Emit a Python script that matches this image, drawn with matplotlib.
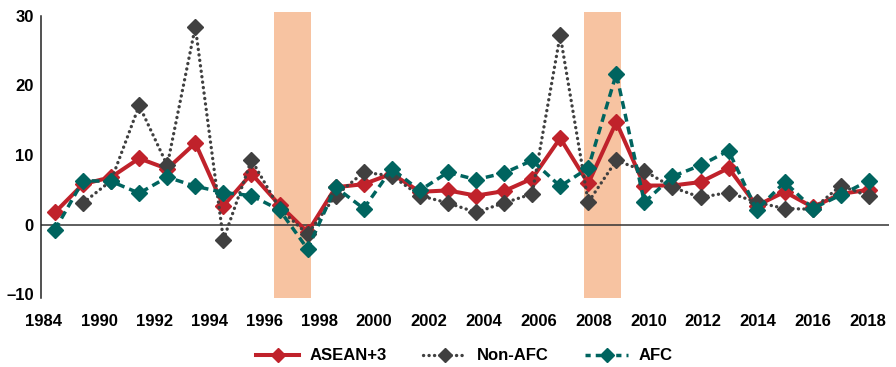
import numpy as np
import matplotlib
matplotlib.use("Agg")
import matplotlib.pyplot as plt
from matplotlib.lines import Line2D

plt.rcParams["font.family"] = ["Liberation Sans", "DejaVu Sans"]
plt.rcParams["font.weight"] = "bold"

years = list(range(1989, 2019))

asean3 = [1.75, 5.8, 6.8, 9.5, 8.0, 11.7, 2.7, 7.3, 2.8, -1.1,
          5.35, 5.8, 7.3, 4.7, 4.9, 4.15, 4.8, 6.6, 12.4, 5.9,
          14.7, 5.6, 5.6, 6.1, 8.1, 2.7, 4.7, 2.5, 4.4, 5.0]
non_afc = [np.nan, 3.1, 6.3, 17.1, 8.5, 28.4, -2.2, 9.3, 2.3, -1.4,
           4.15, 7.5, 7.0, 4.15, 3.1, 1.75, 3.1, 4.4, 27.2, 3.2,
           9.2, 7.7, 5.35, 3.9, 4.6, 3.2, 2.3, 2.2, 5.6, 4.05]
afc = [-0.75, 6.3, 6.2, 4.5, 6.8, 5.5, 4.6, 4.15, 2.1, -3.5,
       5.35, 2.3, 8.0, 4.9, 7.5, 6.45, 7.4, 9.2, 5.5, 8.1,
       21.65, 3.2, 6.9, 8.5, 10.6, 2.1, 6.1, 2.3, 4.25, 6.3]

tick_labels = ["1984"] + [str(y) for y in range(1990, 2019, 2)]
crisis_spans = [(1996.8, 1998.11), (2007.84, 2009.15)]

RED = "#C0222B"
GRAY = "#404040"
TEAL = "#00645F"
BAND = "#F7C3A1"

DOTS = (0, (0.05, 1.6))
DASHES = (0, (2.3, 1.45))

fig = plt.figure(figsize=(8.96, 3.67), dpi=100)
ax = fig.add_axes([0.0454, 0.187, 0.9466, 0.780])

for x0, x1 in crisis_spans:
    ax.axvspan(x0, x1, color=BAND, lw=0, zorder=0)

ax.axhline(0, color="#333333", lw=1.1, zorder=1)

ax.plot(years, asean3, color=RED, lw=2.9, marker="D", ms=8.3,
        zorder=3, label="ASEAN+3")
ax.plot(years, non_afc, color=GRAY, lw=2.4, linestyle=DOTS,
        dash_capstyle="round", marker="D", ms=8.3, zorder=4, label="Non-AFC")
ax.plot(years, afc, color=TEAL, lw=2.5, linestyle=DASHES,
        marker="D", ms=8.3, zorder=5, label="AFC")

ax.set_xlim(1988.49, 2018.71)
ax.set_ylim(-10.6, 30.5)
ax.set_yticks([-10, 0, 10, 20, 30])
ax.set_yticklabels(["\u201310", "0", "10", "20", "30"])
tick_pos = [1988.58] + list(np.linspace(1990.60, 2017.96, 15))
ax.set_xticks(tick_pos)
ax.set_xticklabels(tick_labels)

for s in ["top", "right", "bottom"]:
    ax.spines[s].set_visible(False)
ax.spines["left"].set_bounds(-10.6, 30)
ax.spines["left"].set_linewidth(1.1)
ax.spines["left"].set_color("#222222")
ax.tick_params(axis="x", length=0, pad=11, labelsize=12)
ax.tick_params(axis="y", length=0, pad=5, labelsize=12)

handles = [
    Line2D([], [], color=RED, lw=2.9, marker="D", ms=7),
    Line2D([], [], color=GRAY, lw=2.4, linestyle=DOTS,
           dash_capstyle="round", marker="D", ms=7),
    Line2D([], [], color=TEAL, lw=2.5, linestyle=(0, (1.5, 1.45)),
           marker="D", ms=7),
]
fig.legend(handles, ["ASEAN+3", "Non-AFC", "AFC"], loc="center",
           bbox_to_anchor=(0.518, 0.03), ncol=3, frameon=False,
           fontsize=12, handlelength=2.6, handletextpad=0.6,
           columnspacing=2.2)

fig.savefig("out.png", dpi=100)
